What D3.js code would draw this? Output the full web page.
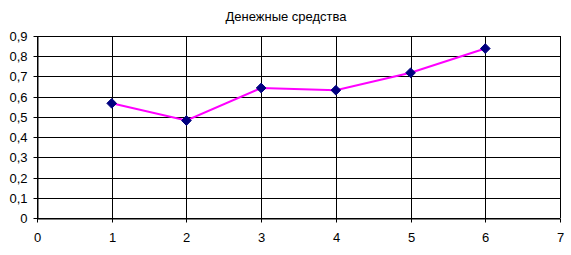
<!DOCTYPE html>
<html>
<head>
<meta charset="utf-8">
<script src="https://cdn.jsdelivr.net/npm/d3@7"></script>
<style>
  body { margin: 0; background: #fff; }
  svg { display: block; font-family: "Liberation Sans", Arial, sans-serif; }
</style>
</head>
<body>
<div id="chart"></div>
<script>
const title = "Денежные средства";
const xValues = [1, 2, 3, 4, 5, 6];
const yValues = [0.567, 0.482, 0.643, 0.632, 0.718, 0.838];
const xTicks = [0, 1, 2, 3, 4, 5, 6, 7];
const yTicks = [0, 0.1, 0.2, 0.3, 0.4, 0.5, 0.6, 0.7, 0.8, 0.9];

const width = 571, height = 255;
const margin = {top: 36, right: 11, bottom: 37, left: 37};

const svg = d3.select("#chart").append("svg")
  .attr("width", width)
  .attr("height", height);

const x = d3.scaleLinear().domain([0, 7]).range([margin.left, width - margin.right]);
const y = d3.scaleLinear().domain([0, 0.9]).range([height - margin.bottom, margin.top]);

const fmt = d => d3.format(".1f")(d).replace(".", ",").replace(/^0,0$/, "0");

// grid
svg.append("g")
  .selectAll("line.h")
  .data(yTicks)
  .join("line")
  .attr("x1", x(0)).attr("x2", x(7))
  .attr("y1", d => Math.round(y(d)) + 0.5).attr("y2", d => Math.round(y(d)) + 0.5)
  .attr("stroke", "#000").attr("stroke-width", 1);

svg.append("g")
  .selectAll("line.v")
  .data(xTicks)
  .join("line")
  .attr("x1", d => Math.round(x(d)) + 0.5).attr("x2", d => Math.round(x(d)) + 0.5)
  .attr("y1", y(0.9)).attr("y2", y(0))
  .attr("stroke", "#000").attr("stroke-width", 1);

// axes
const xAxis = d3.axisBottom(x).tickValues(xTicks).tickSize(4).tickSizeOuter(0).tickPadding(10)
  .tickFormat(d3.format("d"));
const gx = svg.append("g")
  .attr("transform", `translate(0,${Math.round(y(0)) + 0.5})`)
  .call(xAxis);

const yAxis = d3.axisLeft(y).tickValues(yTicks).tickSize(4).tickSizeOuter(0).tickPadding(6)
  .tickFormat(fmt);
const gy = svg.append("g")
  .attr("transform", `translate(${Math.round(x(0)) + 0.5},0)`)
  .call(yAxis);

gx.selectAll(".tick line").attr("transform", function() {
  return null;
});
gx.selectAll(".tick").attr("transform", d => `translate(${Math.round(x(d)) + 0.5},0)`);
gy.selectAll(".tick").attr("transform", d => `translate(0,${Math.round(y(d)) + 0.5})`);

[gx, gy].forEach(g => {
  g.select(".domain").attr("stroke", "#000");
  g.selectAll(".tick line").attr("stroke", "#000");
  g.selectAll(".tick text").attr("fill", "#000").style("font-size", "13px")
    .style("font-family", "'Liberation Sans', Arial, sans-serif");
});

// series line
const pts = xValues.map((v, i) => [v, yValues[i]]);
svg.append("path")
  .datum(pts)
  .attr("fill", "none")
  .attr("stroke", "#ff00ff")
  .attr("stroke-width", 2)
  .attr("d", d3.line().x(d => x(d[0])).y(d => y(d[1])));

// markers
svg.append("g")
  .selectAll("path")
  .data(pts)
  .join("path")
  .attr("transform", d => `translate(${x(d[0])},${y(d[1])})`)
  .attr("d", d3.symbol(d3.symbolDiamond2, 60)())
  .attr("fill", "#000080")
  .attr("stroke", "#000080")
  .attr("stroke-width", 1);

// title
svg.append("text")
  .attr("x", 286)
  .attr("y", 21)
  .attr("text-anchor", "middle")
  .style("font-size", "13px")
  .attr("fill", "#000")
  .text(title);
</script>
</body>
</html>
